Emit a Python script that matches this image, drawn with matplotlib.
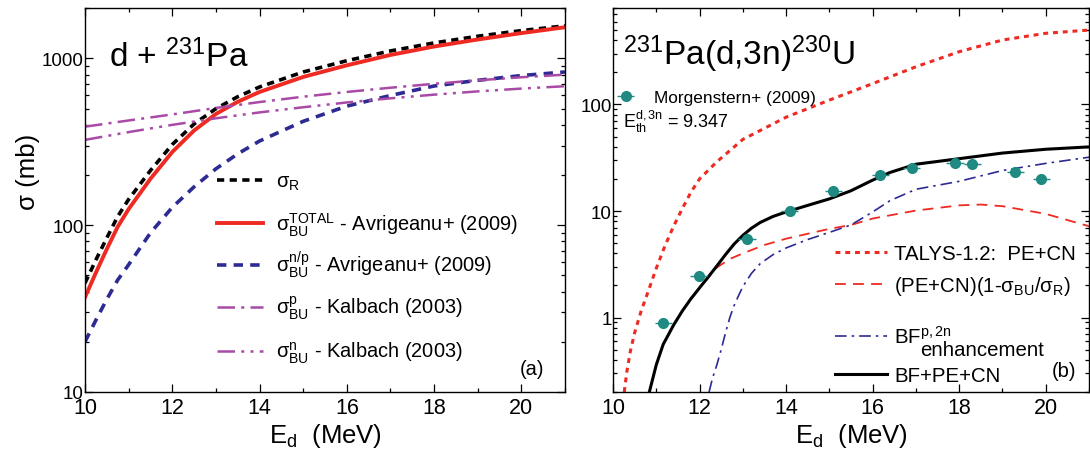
import matplotlib
matplotlib.use("Agg")
import matplotlib.pyplot as plt
import numpy as np
from matplotlib.ticker import FixedLocator, FixedFormatter, NullFormatter, LogLocator
from matplotlib.legend import Legend

plt.rcParams['font.family'] = ['Liberation Sans', 'DejaVu Sans']
plt.rcParams['mathtext.fontset'] = 'custom'
plt.rcParams['mathtext.rm'] = 'Liberation Sans'
plt.rcParams['mathtext.it'] = 'Liberation Sans'
plt.rcParams['mathtext.bf'] = 'Liberation Sans'
plt.rcParams['mathtext.default'] = 'regular'

# ---------------- Panel (a) data ----------------
E_a = [10, 10.25, 10.5, 10.75, 11, 11.5, 12, 12.5, 13, 13.5, 14, 15, 16, 17, 18, 19, 20, 21]
sigma_R = [45, 62, 84, 113, 143, 213, 305, 405, 500, 590, 675, 830, 970, 1110, 1240, 1360, 1470, 1570]
sigma_BU_total = [37, 52, 72, 98, 125, 190, 275, 370, 465, 550, 630, 775, 910, 1050, 1180, 1300, 1420, 1540]
sigma_BU_np = [20, 27, 36, 47, 58, 90, 128, 170, 218, 268, 320, 420, 518, 600, 684, 740, 790, 830]
E_k = [10, 11, 12, 13, 14, 15, 16, 17, 18, 19, 20, 21]
kalbach_p = [390, 425, 462, 505, 548, 590, 630, 668, 705, 740, 772, 800]
kalbach_n = [325, 362, 400, 438, 475, 510, 545, 577, 607, 635, 660, 682]

# ---------------- Panel (b) data ----------------
E_exp = [11.16, 11.98, 13.10, 14.08, 15.09, 16.18, 16.90, 17.90, 18.30, 19.30, 19.90]
sig_exp = [0.89, 2.45, 5.5, 10.0, 15.3, 21.6, 25.6, 28.1, 27.7, 23.1, 20.1]
E_exp_err = [0.2] * 11

E_talys = [10.26, 10.32, 10.4, 10.5, 10.65, 10.8, 11.0, 11.2, 11.4, 11.6, 11.8, 12.0, 12.4, 13, 14, 15, 16, 17, 18, 19, 20, 21]
talys = [0.2, 0.31, 0.48, 0.72, 1.15, 1.7, 2.9, 4.7, 7.2, 10.5, 15, 20, 29, 47, 76, 110, 157, 226, 313, 403, 466, 500]

E_red = [11.6, 12.0, 12.4, 12.7, 13.0, 13.5, 14, 15, 15.5, 16, 17, 18, 18.5, 19, 20, 21]
pecn_red = [1.15, 1.9, 2.95, 3.55, 4.0, 4.8, 5.5, 6.8, 7.4, 8.5, 10.1, 11.3, 11.5, 11.1, 9.4, 7.2]

E_bf = [12.22, 12.3, 12.4, 12.5, 12.6, 12.7, 12.8, 12.9, 13.0, 13.2, 13.4, 13.7, 14, 14.5, 15, 15.5, 16, 16.4, 17, 18, 19, 20, 21]
bf_enh = [0.2, 0.27, 0.36, 0.5, 0.72, 1.0, 1.3, 1.6, 1.95, 2.6, 3.2, 3.9, 4.5, 5.4, 6.3, 7.4, 9.8, 12.5, 16, 19, 24, 28, 32]

E_tot = [10.84, 11.0, 11.16, 11.4, 11.6, 11.8, 12.0, 12.2, 12.4, 12.6, 12.8, 13.0, 13.2, 13.4, 13.7, 14, 14.5, 15, 15.5, 16, 16.4, 17, 18, 19, 20, 21]
bf_total = [0.2, 0.36, 0.56, 0.85, 1.15, 1.5, 1.9, 2.4, 3.05, 3.9, 4.9, 5.9, 6.9, 7.8, 8.9, 9.8, 11.3, 13.0, 15.5, 19.5, 23, 27.5, 31, 35, 38, 40]

RED = '#ee2a22'
NAVY = '#2d2b92'
MAG = '#a84aa6'
TEAL = '#1f8a82'

fig = plt.figure(figsize=(10.9, 4.6), dpi=100)
W, H = 1090, 460
AX_BOTTOM, AX_H = 393, 383.7
axa = fig.add_axes([85 / W, 1 - AX_BOTTOM / H, 480 / W, AX_H / H])
axb = fig.add_axes([613 / W, 1 - AX_BOTTOM / H, 476 / W, AX_H / H])

def style(ax, ylim, yt, ytl):
    ax.set_yscale('log')
    ax.set_xlim(10, 21)
    ax.set_ylim(*ylim)
    ax.set_xticks([10, 12, 14, 16, 18, 20])
    ax.set_xticks([11, 13, 15, 17, 19, 21], minor=True)
    ax.set_xticklabels(['10', '12', '14', '16', '18', '20'], fontsize=15.5)
    ax.yaxis.set_major_locator(FixedLocator(yt))
    ax.yaxis.set_major_formatter(FixedFormatter(ytl))
    ax.yaxis.set_minor_locator(LogLocator(base=10, subs=np.arange(2, 10)))
    ax.yaxis.set_minor_formatter(NullFormatter())
    ax.tick_params(which='both', direction='in', top=True, right=True, width=0.9)
    ax.tick_params(which='major', length=6)
    ax.tick_params(which='minor', length=3.2)
    ax.tick_params(axis='y', labelsize=13.5, pad=1)
    ax.tick_params(axis='x', pad=3.5)
    for s in ax.spines.values():
        s.set_linewidth(1.0)
    ax.set_xlabel(r'E$_d$  (MeV)', fontsize=18.5, labelpad=2)

style(axa, (10, 2000), [10, 100, 1000], ['10', '100', '1000'])
style(axb, (0.2, 800), [1, 10, 100], ['1', '10', '100'])

def row_legend(ax, handle, label, x_px, ax_left, ax_w, line_y, off, fs, hl, htp):
    y = (AX_BOTTOM - (line_y + off)) / AX_H
    x = (x_px - ax_left) / ax_w
    lg = Legend(ax, [handle], [label], loc='lower left', bbox_to_anchor=(x, y),
                frameon=False, fontsize=fs, handlelength=hl, handletextpad=htp,
                borderpad=0, borderaxespad=0)
    ax.add_artist(lg)
    return lg

# ---- panel (a) ----
la = []
la.append(axa.plot(E_a, sigma_R, color='black', lw=2.6, ls=(0, (2.0, 1.5)))[0])
la.append(axa.plot(E_a, sigma_BU_total, color=RED, lw=2.8, ls='-')[0])
la.append(axa.plot(E_a, sigma_BU_np, color=NAVY, lw=2.6, ls=(0, (2.6, 2.0)))[0])
la.append(axa.plot(E_k, kalbach_p, color=MAG, lw=1.8, ls=(0, (7, 2.5, 1.2, 2.5)))[0])
la.append(axa.plot(E_k, kalbach_n, color=MAG, lw=1.8, ls=(0, (7, 2.5, 1.2, 2.5, 1.2, 2.5)))[0])
labels_a = [r'σ$_R$', r'σ$_{BU}^{TOTAL}$ - Avrigeanu+ (2009)', r'σ$_{BU}^{n/p}$ - Avrigeanu+ (2009)',
            r'σ$_{BU}^{p}$ - Kalbach (2003)', r'σ$_{BU}^{n}$ - Kalbach (2003)']
rows_a = [181, 222, 264, 307, 351]
offs_a = [12, 17, 16.5, 15.5, 15.5]
for h, lab, ry, of in zip(la, labels_a, rows_a, offs_a):
    row_legend(axa, h, lab, 216.7, 85, 480, ry, of, 14.4, 2.33, 0.62)

axa.text(0.05, 0.850, r'd + $^{231}$Pa', transform=axa.transAxes, fontsize=24, va='baseline', ha='left')
axa.text(0.931, 0.0625, '(a)', transform=axa.transAxes, fontsize=14.5, ha='center', va='center')
axa.set_ylabel('σ (mb)', fontsize=18.5)
axa.yaxis.set_label_coords(-0.093, 0.575)

# ---- panel (b) ----
l1, = axb.plot(E_talys, talys, color=RED, lw=2.2, ls=(0, (1.6, 1.6)))
l2, = axb.plot(E_red, pecn_red, color=RED, lw=1.3, ls=(0, (6, 4)))
l3, = axb.plot(E_bf, bf_enh, color=NAVY, lw=1.2, ls=(0, (7, 3, 1.5, 3)))
l4, = axb.plot(E_tot, bf_total, color='black', lw=2.2, ls='-')
eb = axb.errorbar(E_exp, sig_exp, xerr=E_exp_err, fmt='o', color=TEAL, ms=7, elinewidth=1.0,
                  capsize=0, zorder=5)
leg1 = Legend(axb, [eb], ['Morgenstern+ (2009)'], loc='upper left', bbox_to_anchor=(0.005, 0.787),
              frameon=False, fontsize=12.4, handlelength=1.2, handletextpad=1.05, borderpad=0, borderaxespad=0)
axb.add_artist(leg1)

labels_b = ['TALYS-1.2:  PE+CN', r'(PE+CN)(1-σ$_{BU}$/σ$_R$)', r'BF$^{p,2n}$', 'BF+PE+CN']
rows_b = [253, 285, 337, 375]
offs_b = [11.4, 13, 11, 11.4]
legs_b = []
for h, lab, ry, of in zip([l1, l2, l3, l4], labels_b, rows_b, offs_b):
    legs_b.append(row_legend(axb, h, lab, 835, 613, 476, ry, of, 14.7, 2.53, 0.36))
axb.annotate('enhancement', xy=(0, 0), xycoords=legs_b[2].get_texts()[0], xytext=(18.7, -5.5),
             textcoords='offset points', fontsize=14.7, ha='left', va='baseline', zorder=10)

axb.text(0.022, 0.855, r'$^{231}$Pa(d,3n)$^{230}$U', transform=axb.transAxes, fontsize=24, va='baseline', ha='left')
axb.text(0.02, 0.69, r'E$_{th}^{d,3n}$ = 9.347', transform=axb.transAxes, fontsize=13, va='baseline', ha='left')
axb.text(0.947, 0.055, '(b)', transform=axb.transAxes, fontsize=14.5, ha='center', va='center')

fig.savefig('out.png', dpi=100)
